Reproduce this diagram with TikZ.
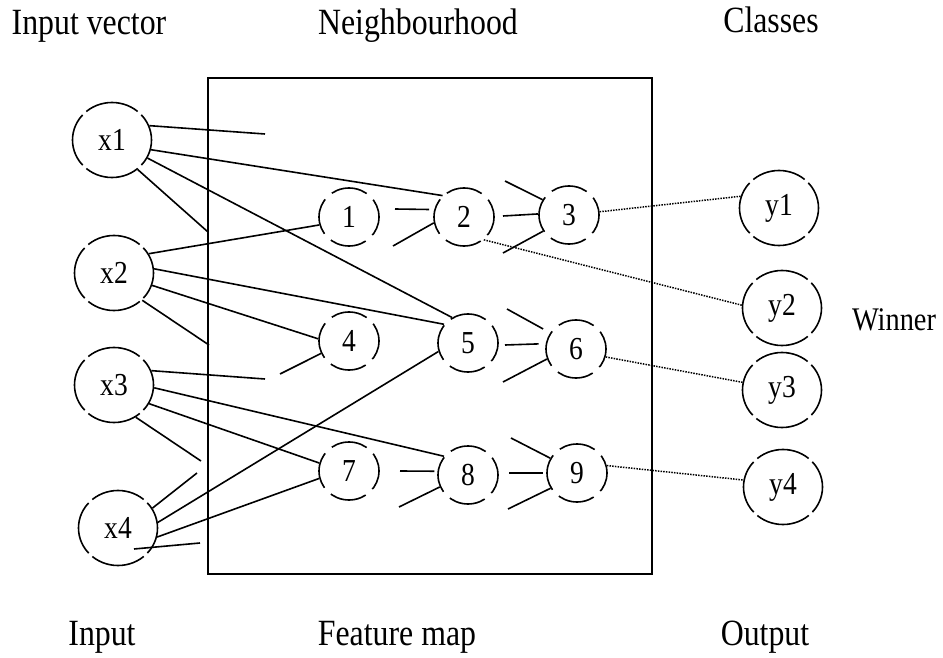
\documentclass[tikz,border=0pt]{standalone}
\usepackage{fontspec}
\setmainfont{Liberation Serif}
\newfontfamily\narrowserif[FakeStretch=0.86]{Liberation Serif}
\usetikzlibrary{shapes.geometric}

\begin{document}
\begin{tikzpicture}[
x=1pt,y=-1pt,
line width=1.6pt,
font=\narrowserif\fontsize{32}{34}\selectfont,
unit/.style={ellipse,draw,minimum width=79pt,minimum height=75pt,inner sep=0pt,
	dash pattern=on 55.5pt off 5pt,dash phase=27.75pt},
cell/.style={ellipse,draw,minimum width=60pt,minimum height=58pt,inner sep=0pt,
	dash pattern=on 37pt off 9pt,dash phase=18.5pt},
caption/.style={anchor=base,font=\narrowserif\fontsize{37}{39}\selectfont},
wire/.style={line width=1.5pt,dash pattern=on 1.5pt off 1.2pt}
]
\useasboundingbox (0,0) rectangle (943,658);

% input vector
\node[unit] (x1) at (112,140) {x1};
\node[unit] (x2) at (114,273) {x2};
\node[unit] (x3) at (114,385) {x3};
\node[unit] (x4) at (118,528) {x4};

% feature map
\draw (208,78) rectangle (652,574);
\node[cell] (n1) at (349,217) {1};
\node[cell] (n2) at (464,217) {2};
\node[cell] (n3) at (569,215) {3};
\node[cell] (n4) at (349,341) {4};
\node[cell] (n5) at (468,343) {5};
\node[cell] (n6) at (576,349) {6};
\node[cell] (n7) at (349,471) {7};
\node[cell] (n8) at (468,475) {8};
\node[cell] (n9) at (577,473) {9};

% classes
\node[unit] (y1) at (779,208) {y1};
\node[unit] (y2) at (782,308) {y2};
\node[unit] (y3) at (782,390) {y3};
\node[unit] (y4) at (783,487) {y4};

% captions
\node[caption] (cin) at (89,35) {Input vector};
\node[caption] (cnb) at (418,35) {Neighbourhood};
\node[caption] (ccl) at (771,33) {Classes};
\node[caption] (bin) at (102,645) {Input};
\node[caption] (bfm) at (397,645) {Feature map};
\node[caption] (bout) at (765,645) {Output};
\node[caption,font=\narrowserif\fontsize{33}{35}\selectfont] (win) at (894,330) {Winner};

% loose ends
\coordinate (x1a) at (265,134);
\coordinate (x1b) at (208,232);
\coordinate (x2a) at (209,345);
\coordinate (n4a) at (280,374);
\coordinate (x3a) at (265,379);
\coordinate (x3b) at (201,461);
\coordinate (x4a) at (197,473);
\coordinate (x4b) at (200,543);
\coordinate (n2a) at (395,209);
\coordinate (n2b) at (393,246);
\coordinate (n3a) at (503,216);
\coordinate (n3b) at (505,181);
\coordinate (n3c) at (503,253);
\coordinate (n6a) at (505,345);
\coordinate (n6b) at (507,309);
\coordinate (n6c) at (503,382);
\coordinate (n8a) at (400,471);
\coordinate (n8b) at (399,507);
\coordinate (n9a) at (509,473);
\coordinate (n9b) at (511,438);
\coordinate (n9c) at (508,509);

% input to map
\draw (x1.21) -- (x1a);
\draw (x1.-14) -- (n2.135);
\draw (x1.-27) -- (n5.122);
\draw (x1.-49) -- (x1b);
\draw (x2.29) -- (n1.195);
\draw (x2.6) -- (n5.142);
\draw (x2.-18) -- (n4.176);
\draw (x2.-44) -- (x2a);
\draw (n4a) -- (n4.204);
\draw (x3.21) -- (x3a);
\draw (x3.-4) -- (n8.142);
\draw (x3.-28) -- (n7.165);
\draw (x3.-56) -- (x3b);
\draw (x4.30) -- (x4a);
\draw (x4.8) -- (n5.196);
\draw (x4.-13) -- (n7.194);
\draw (x4.center) ++(16,21) -- (x4b);

% neighbourhood
\draw[shorten >=5pt] (n2a) -- (n2.166);
\draw (n2b) -- (n2.191);
\draw (n3a) -- (n3.178);
\draw (n3b) -- (n3.150);
\draw (n3c) -- (n3.212);
\draw[shorten >=7pt] (n6a) -- (n6.170);
\draw[shorten >=8pt] (n6b) -- (n6.148);
\draw (n6c) -- (n6.199);
\draw[shorten >=3pt] (n8a) -- (n8.173);
\draw (n8b) -- (n8.203);
\draw[shorten >=3pt] (n9a) -- (n9.180);
\draw (n9b) -- (n9.151);
\draw (n9c) -- (n9.210);

% map to classes
\draw[wire] (n3.6) -- (y1.163);
\draw[wire] (n2.-49) -- (y2.176);
\draw[wire] (n6.-15) -- (y3.169);
\draw[wire] (n9.14) -- (y4.170);
\end{tikzpicture}
\end{document}
